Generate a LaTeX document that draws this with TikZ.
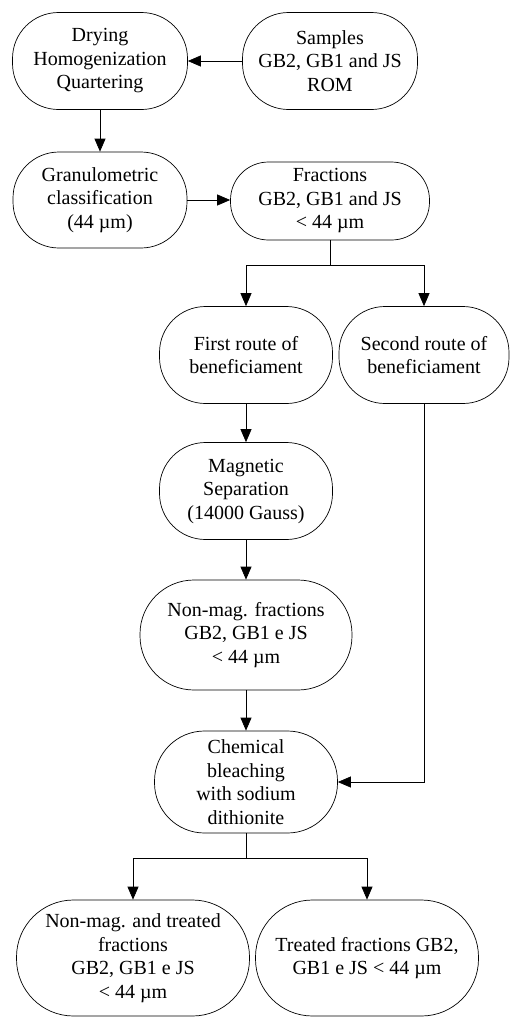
\documentclass[tikz,border=0pt]{standalone}
\usepackage{fontspec}
\setmainfont{Liberation Serif}
\usetikzlibrary{arrows.meta}
\begin{document}
\begin{tikzpicture}[x=1pt, y=-1pt,
    stadium/.style={draw, line width=0.7pt, rounded corners=46pt, align=center, inner sep=0pt,
        font=\fontsize{20}{23.5}\selectfont},
    arr/.style={-{Triangle[length=13pt, width=11pt]}, line width=0.7pt}]
    \useasboundingbox (0,0) rectangle (510,1018);

    % Preparation
    \node[stadium, minimum width=175pt, minimum height=97pt] (drying) at (100,61) {Drying\\Homogenization\\Quartering};
    \node[stadium, minimum width=175pt, minimum height=97pt] (samples) at (330,61) {Samples\\GB2, GB1 and JS\\ROM};
    \node[stadium, minimum width=174pt, minimum height=96pt] (granul) at (100,200) {Granulometric\\classification\\(44 µm)};
    \node[stadium, minimum width=199pt, minimum height=78pt, rounded corners=38pt] (fractions) at (330,201) {Fractions\\GB2, GB1 and JS\\< 44 µm};

    % Routes
    \node[stadium, minimum width=173pt, minimum height=97pt] (first) at (246,355) {First route of\\beneficiament};
    \node[stadium, minimum width=170pt, minimum height=97pt] (second) at (424,355) {Second route of\\beneficiament};
    \node[stadium, minimum width=173pt, minimum height=97pt] (magnetic) at (246,491) {Magnetic\\Separation\\(14000 Gauss)};
    \node[stadium, minimum width=212pt, minimum height=110pt, rounded corners=54pt] (nonmag) at (246,635) {Non-mag. fractions\\GB2, GB1 e JS\\< 44 µm};
    \node[stadium, minimum width=183pt, minimum height=102pt, rounded corners=50pt] (chemical) at (246,782) {Chemical\\bleaching\\with sodium\\dithionite};

    % Products
    \node[stadium, minimum width=233pt, minimum height=116pt, rounded corners=57pt] (both) at (133,958) {Non-mag. and treated\\fractions\\GB2, GB1 e JS\\< 44 µm};
    \node[stadium, minimum width=223pt, minimum height=116pt, rounded corners=57pt] (treated) at (367,958) {Treated fractions GB2,\\GB1 e JS < 44 µm};

    % Arrows
    \draw[arr] (samples) -- (drying);
    \draw[arr] (drying) -- (granul);
    \draw[arr] (granul.east) -- (fractions.west |- granul.east);
    \draw[line width=0.7pt] (fractions.south) -- ++(0,25) coordinate (split1);
    \draw[arr] (split1) -| (first.north);
    \draw[arr] (split1) -| (second.north);
    \draw[arr] (first) -- (magnetic);
    \draw[arr] (magnetic) -- (nonmag);
    \draw[arr] (nonmag) -- (chemical);
    \draw[arr] (second.south) |- (chemical.east);
    \draw[line width=0.7pt] (chemical.south) -- ++(0,25) coordinate (split2);
    \draw[arr] (split2) -| (both.north);
    \draw[arr] (split2) -| (treated.north);
\end{tikzpicture}
\end{document}
